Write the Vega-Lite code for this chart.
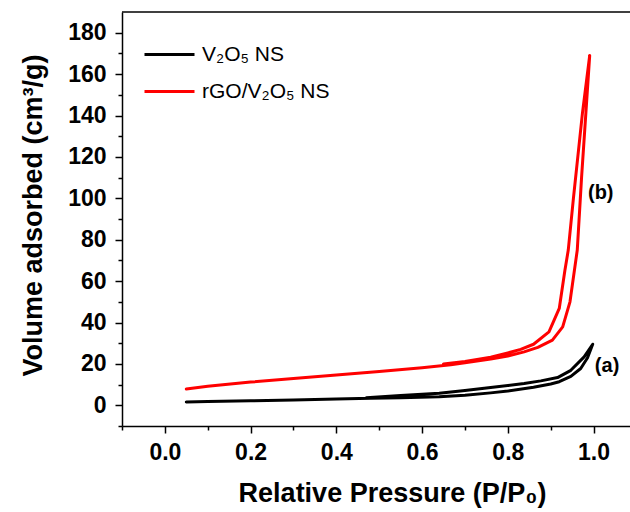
{
  "$schema": "https://vega.github.io/schema/vega-lite/v6.json",
  "autosize": "none",
  "padding": {"left": 122, "top": 12, "right": 0, "bottom": 86},
  "width": 508,
  "height": 414,
  "background": "white",
  "config": {
    "view": {"stroke": null},
    "font": "Liberation Sans",
    "axis": {
      "domainColor": "black", "domainWidth": 1.5, "tickColor": "black", "tickWidth": 1.5,
      "grid": false, "labelFont": "Liberation Sans", "labelFontWeight": "bold", "labelFontSize": 23,
      "labelColor": "black", "titleFont": "Liberation Sans", "titleFontWeight": "bold", "titleFontSize": 27, "titleColor": "black",
      "labelOverlap": false
    }
  },
  "datasets": {
    "iso": [
      {"s": "V₂O₅ NS", "i": 1, "p": 0.05, "v": 1.6},
      {"s": "V₂O₅ NS", "i": 2, "p": 0.1, "v": 1.8},
      {"s": "V₂O₅ NS", "i": 3, "p": 0.2, "v": 2.2},
      {"s": "V₂O₅ NS", "i": 4, "p": 0.3, "v": 2.6},
      {"s": "V₂O₅ NS", "i": 5, "p": 0.4, "v": 3.0},
      {"s": "V₂O₅ NS", "i": 6, "p": 0.48, "v": 3.4},
      {"s": "V₂O₅ NS", "i": 7, "p": 0.55, "v": 3.7},
      {"s": "V₂O₅ NS", "i": 8, "p": 0.64, "v": 4.1},
      {"s": "V₂O₅ NS", "i": 9, "p": 0.7, "v": 4.9},
      {"s": "V₂O₅ NS", "i": 10, "p": 0.76, "v": 6.0},
      {"s": "V₂O₅ NS", "i": 11, "p": 0.8, "v": 6.9},
      {"s": "V₂O₅ NS", "i": 12, "p": 0.86, "v": 8.7},
      {"s": "V₂O₅ NS", "i": 13, "p": 0.9, "v": 10.3},
      {"s": "V₂O₅ NS", "i": 14, "p": 0.92, "v": 11.4},
      {"s": "V₂O₅ NS", "i": 15, "p": 0.947, "v": 14.0},
      {"s": "V₂O₅ NS", "i": 16, "p": 0.97, "v": 17.8},
      {"s": "V₂O₅ NS", "i": 17, "p": 0.986, "v": 23.0},
      {"s": "V₂O₅ NS", "i": 18, "p": 0.998, "v": 29.5},
      {"s": "V₂O₅ NS", "i": 19, "p": 0.978, "v": 23.4},
      {"s": "V₂O₅ NS", "i": 20, "p": 0.947, "v": 16.9},
      {"s": "V₂O₅ NS", "i": 21, "p": 0.916, "v": 13.4},
      {"s": "V₂O₅ NS", "i": 22, "p": 0.877, "v": 11.8},
      {"s": "V₂O₅ NS", "i": 23, "p": 0.838, "v": 10.5},
      {"s": "V₂O₅ NS", "i": 24, "p": 0.76, "v": 8.6},
      {"s": "V₂O₅ NS", "i": 25, "p": 0.7, "v": 7.2},
      {"s": "V₂O₅ NS", "i": 26, "p": 0.64, "v": 5.8},
      {"s": "V₂O₅ NS", "i": 27, "p": 0.55, "v": 4.7},
      {"s": "V₂O₅ NS", "i": 28, "p": 0.47, "v": 3.6},
      {"s": "rGO/V₂O₅ NS", "i": 1, "p": 0.05, "v": 7.9},
      {"s": "rGO/V₂O₅ NS", "i": 2, "p": 0.1, "v": 9.2},
      {"s": "rGO/V₂O₅ NS", "i": 3, "p": 0.2, "v": 11.2},
      {"s": "rGO/V₂O₅ NS", "i": 4, "p": 0.3, "v": 13.0},
      {"s": "rGO/V₂O₅ NS", "i": 5, "p": 0.4, "v": 14.6},
      {"s": "rGO/V₂O₅ NS", "i": 6, "p": 0.5, "v": 16.3},
      {"s": "rGO/V₂O₅ NS", "i": 7, "p": 0.6, "v": 18.1},
      {"s": "rGO/V₂O₅ NS", "i": 8, "p": 0.667, "v": 19.6},
      {"s": "rGO/V₂O₅ NS", "i": 9, "p": 0.7, "v": 20.5},
      {"s": "rGO/V₂O₅ NS", "i": 10, "p": 0.76, "v": 22.3},
      {"s": "rGO/V₂O₅ NS", "i": 11, "p": 0.8, "v": 23.8},
      {"s": "rGO/V₂O₅ NS", "i": 12, "p": 0.838, "v": 25.8},
      {"s": "rGO/V₂O₅ NS", "i": 13, "p": 0.87, "v": 28.0},
      {"s": "rGO/V₂O₅ NS", "i": 14, "p": 0.904, "v": 31.5},
      {"s": "rGO/V₂O₅ NS", "i": 15, "p": 0.928, "v": 37.9},
      {"s": "rGO/V₂O₅ NS", "i": 16, "p": 0.945, "v": 50},
      {"s": "rGO/V₂O₅ NS", "i": 17, "p": 0.962, "v": 75},
      {"s": "rGO/V₂O₅ NS", "i": 18, "p": 0.972, "v": 110},
      {"s": "rGO/V₂O₅ NS", "i": 19, "p": 0.982, "v": 141},
      {"s": "rGO/V₂O₅ NS", "i": 20, "p": 0.991, "v": 169},
      {"s": "rGO/V₂O₅ NS", "i": 21, "p": 0.974, "v": 141},
      {"s": "rGO/V₂O₅ NS", "i": 22, "p": 0.953, "v": 100},
      {"s": "rGO/V₂O₅ NS", "i": 23, "p": 0.941, "v": 75},
      {"s": "rGO/V₂O₅ NS", "i": 24, "p": 0.933, "v": 65},
      {"s": "rGO/V₂O₅ NS", "i": 25, "p": 0.92, "v": 46.8},
      {"s": "rGO/V₂O₅ NS", "i": 26, "p": 0.896, "v": 35.5},
      {"s": "rGO/V₂O₅ NS", "i": 27, "p": 0.86, "v": 29.5},
      {"s": "rGO/V₂O₅ NS", "i": 28, "p": 0.83, "v": 27.0},
      {"s": "rGO/V₂O₅ NS", "i": 29, "p": 0.8, "v": 25.3},
      {"s": "rGO/V₂O₅ NS", "i": 30, "p": 0.76, "v": 23.2},
      {"s": "rGO/V₂O₅ NS", "i": 31, "p": 0.7, "v": 21.2},
      {"s": "rGO/V₂O₅ NS", "i": 32, "p": 0.65, "v": 20.0}
    ],
    "labels": [
      {"t": "(b)", "p": 0.987, "v": 102.5},
      {"t": "(a)", "p": 1.003, "v": 19}
    ],
    "frame": [{"v": 190}]
  },
  "resolve": {"axis": {"x": "independent", "y": "independent"}},
  "layer": [
    {
      "data": {"name": "iso"},
      "mark": {"type": "line", "strokeWidth": 3, "strokeJoin": "round", "strokeCap": "round"},
      "encoding": {
        "x": {
          "field": "p", "type": "quantitative",
          "scale": {"domain": [-0.1, 1.085], "nice": false, "zero": false},
          "axis": {
            "orient": "bottom",
            "title": "Relative Pressure (P/P₀)",
            "values": [0, 0.2, 0.4, 0.6, 0.8, 1.0],
            "format": ".1f",
            "tickSize": 7,
            "labelPadding": 8,
            "titleX": 270, "titleY": 75, "titleAlign": "center", "titleBaseline": "alphabetic"
          }
        },
        "y": {
          "field": "v", "type": "quantitative",
          "scale": {"domain": [-10, 190], "nice": false, "zero": false},
          "axis": {
            "orient": "left",
            "title": "Volume adsorbed (cm³/g)",
            "values": [0, 20, 40, 60, 80, 100, 120, 140, 160, 180],
            "tickSize": 7,
            "labelPadding": 9,
            "titleX": -81, "titleY": 203, "titleAlign": "center", "titleBaseline": "alphabetic", "titleAngle": -90
          }
        },
        "color": {
          "field": "s", "type": "nominal",
          "scale": {"domain": ["V₂O₅ NS", "rGO/V₂O₅ NS"], "range": ["black", "#ff0000"]},
          "legend": {
            "title": null, "orient": "none", "legendX": 21, "legendY": 16,
            "symbolType": "stroke", "symbolSize": 2500, "symbolStrokeWidth": 3,
            "labelFont": "Liberation Sans", "labelFontSize": 21, "labelColor": "black", "labelOffset": 6,
            "rowPadding": -28
          }
        },
        "order": {"field": "i", "type": "quantitative"}
      }
    },
    {
      "data": {"name": "labels"},
      "mark": {"type": "text", "align": "left", "baseline": "middle", "fontWeight": "bold", "fontSize": 20, "font": "Liberation Sans", "color": "black"},
      "encoding": {
        "x": {
          "field": "p", "type": "quantitative",
          "scale": {"domain": [-0.1, 1.085], "nice": false, "zero": false},
          "axis": {"orient": "bottom", "values": [-0.1, 0.1, 0.3, 0.5, 0.7, 0.9], "tickSize": 4, "labels": false, "domain": false, "title": null}
        },
        "y": {
          "field": "v", "type": "quantitative",
          "scale": {"domain": [-10, 190], "nice": false, "zero": false},
          "axis": null
        },
        "text": {"field": "t"}
      }
    },
    {
      "data": {"name": "frame"},
      "mark": {"type": "rule", "color": "black", "strokeWidth": 1.5},
      "encoding": {
        "y": {
          "field": "v", "type": "quantitative",
          "scale": {"domain": [-10, 190], "nice": false, "zero": false},
          "axis": {"orient": "left", "values": [-10, 10, 30, 50, 70, 90, 110, 130, 150, 170], "tickSize": 4, "labels": false, "domain": false, "title": null}
        }
      }
    }
  ]
}
